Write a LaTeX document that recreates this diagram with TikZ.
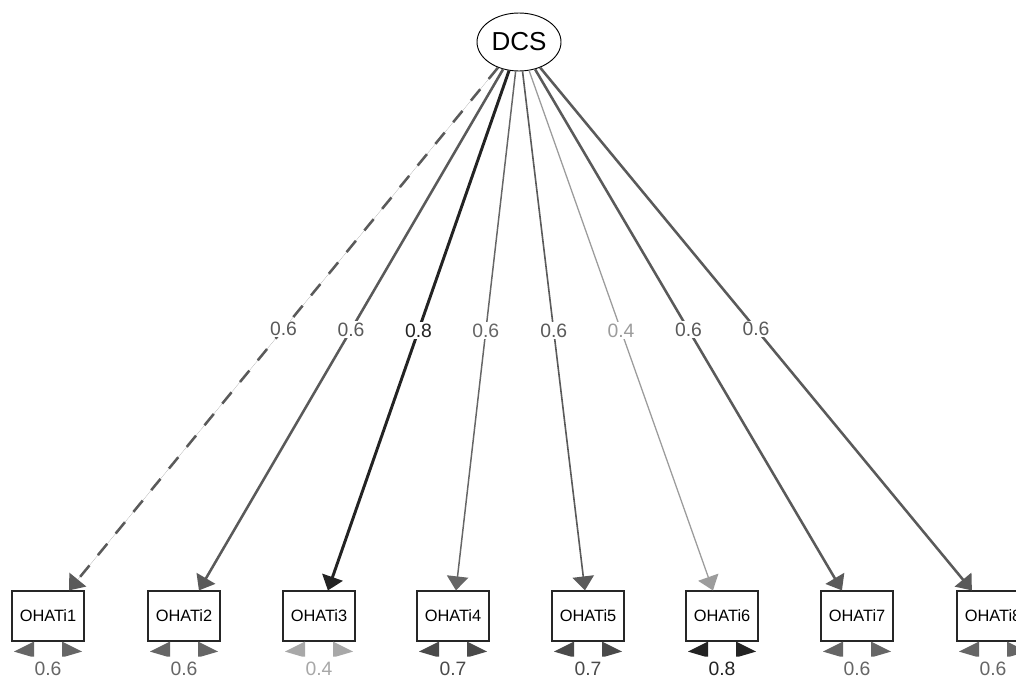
\documentclass[tikz,border=0pt]{standalone}
\usepackage{fontspec}
\setmainfont{Liberation Sans}
\usetikzlibrary{arrows.meta,shapes.geometric,calc}

\definecolor{cSix}{HTML}{5A5A5A}
\definecolor{cSixL}{HTML}{666666}
\definecolor{cSeven}{HTML}{4A4A4A}
\definecolor{cEight}{HTML}{232323}
\definecolor{cFour}{HTML}{9C9C9C}
\definecolor{cFourL}{HTML}{A8A8A8}

\begin{document}
\begin{tikzpicture}[x=0.75pt,y=-0.75pt,
  latent/.style={ellipse,draw=black,line width=0.7pt,minimum width=63pt,
    minimum height=43.5pt,inner sep=0pt,font=\fontsize{19.5}{20}\selectfont},
  manifest/.style={rectangle,draw=black!85,line width=0.9pt,minimum width=54pt,
    minimum height=37.5pt,inner sep=0pt,font=\fontsize{12.3}{13}\selectfont},
  loading/.style={-{Triangle[length=10.5pt,width=16pt]}},
  fixedload/.style={dash pattern=on 11pt off 10pt},
  freeload/.style={solid},
  lbl/.style={fill=white,inner sep=1.2pt,font=\fontsize{14.5}{15}\selectfont},
  reslbl/.style={inner sep=0pt,font=\fontsize{14.5}{15}\selectfont}]

\useasboundingbox (0,0) rectangle (1016,678);
\clip (0,0) rectangle (1016,678);
\fill[white] (0,0) rectangle (1016,678);

% latent factor
\node[latent] (dcs) at (519,42) {DCS};

% indicators
\foreach \i/\x in {1/48,2/184,3/319,4/453,5/588,6/722,7/857,8/993}
  \node[manifest] (o\i) at (\x,616) {OHATi\i};

% factor loadings
\foreach \i/\col/\lw/\val/\dsh in {
    1/cSix/1.9pt/0.6/fixedload,
    2/cSix/1.9pt/0.6/freeload,
    3/cEight/2.2pt/0.8/freeload,
    4/cSixL/1.1pt/0.6/freeload,
    5/cSix/1.2pt/0.6/freeload,
    6/cFour/0.95pt/0.4/freeload,
    7/cSix/1.9pt/0.6/freeload,
    8/cSix/1.9pt/0.6/freeload}
{
  \draw[loading,draw=\col,fill=\col,line width=\lw,\dsh] (dcs) -- (o\i)
    node[lbl,pos=0.5,text=\col,solid] (l\i) {\val};
}

% residual variances
\foreach \i/\col/\val in {1/cSixL/0.6,2/cSixL/0.6,3/cFourL/0.4,4/cSeven/0.7,
    5/cSeven/0.7,6/cEight/0.8,7/cSixL/0.6,8/cSixL/0.6}
{
  \fill[\col] ($(o\i.south)+(-14,0)$) -- ($(o\i.south)+(-14,15)$)
    -- ($(o\i.south)+(-17,15)$) -- ($(o\i.south)+(-34,10)$)
    -- ($(o\i.south)+(-18,2)$) -- cycle;
  \fill[\col] ($(o\i.south)+(14,0)$) -- ($(o\i.south)+(14,15)$)
    -- ($(o\i.south)+(17,15)$) -- ($(o\i.south)+(34,10)$)
    -- ($(o\i.south)+(18,2)$) -- cycle;
  \node[reslbl,text=\col] (r\i) at ($(o\i.south)+(0,27)$) {\val};
}
\end{tikzpicture}
\end{document}
